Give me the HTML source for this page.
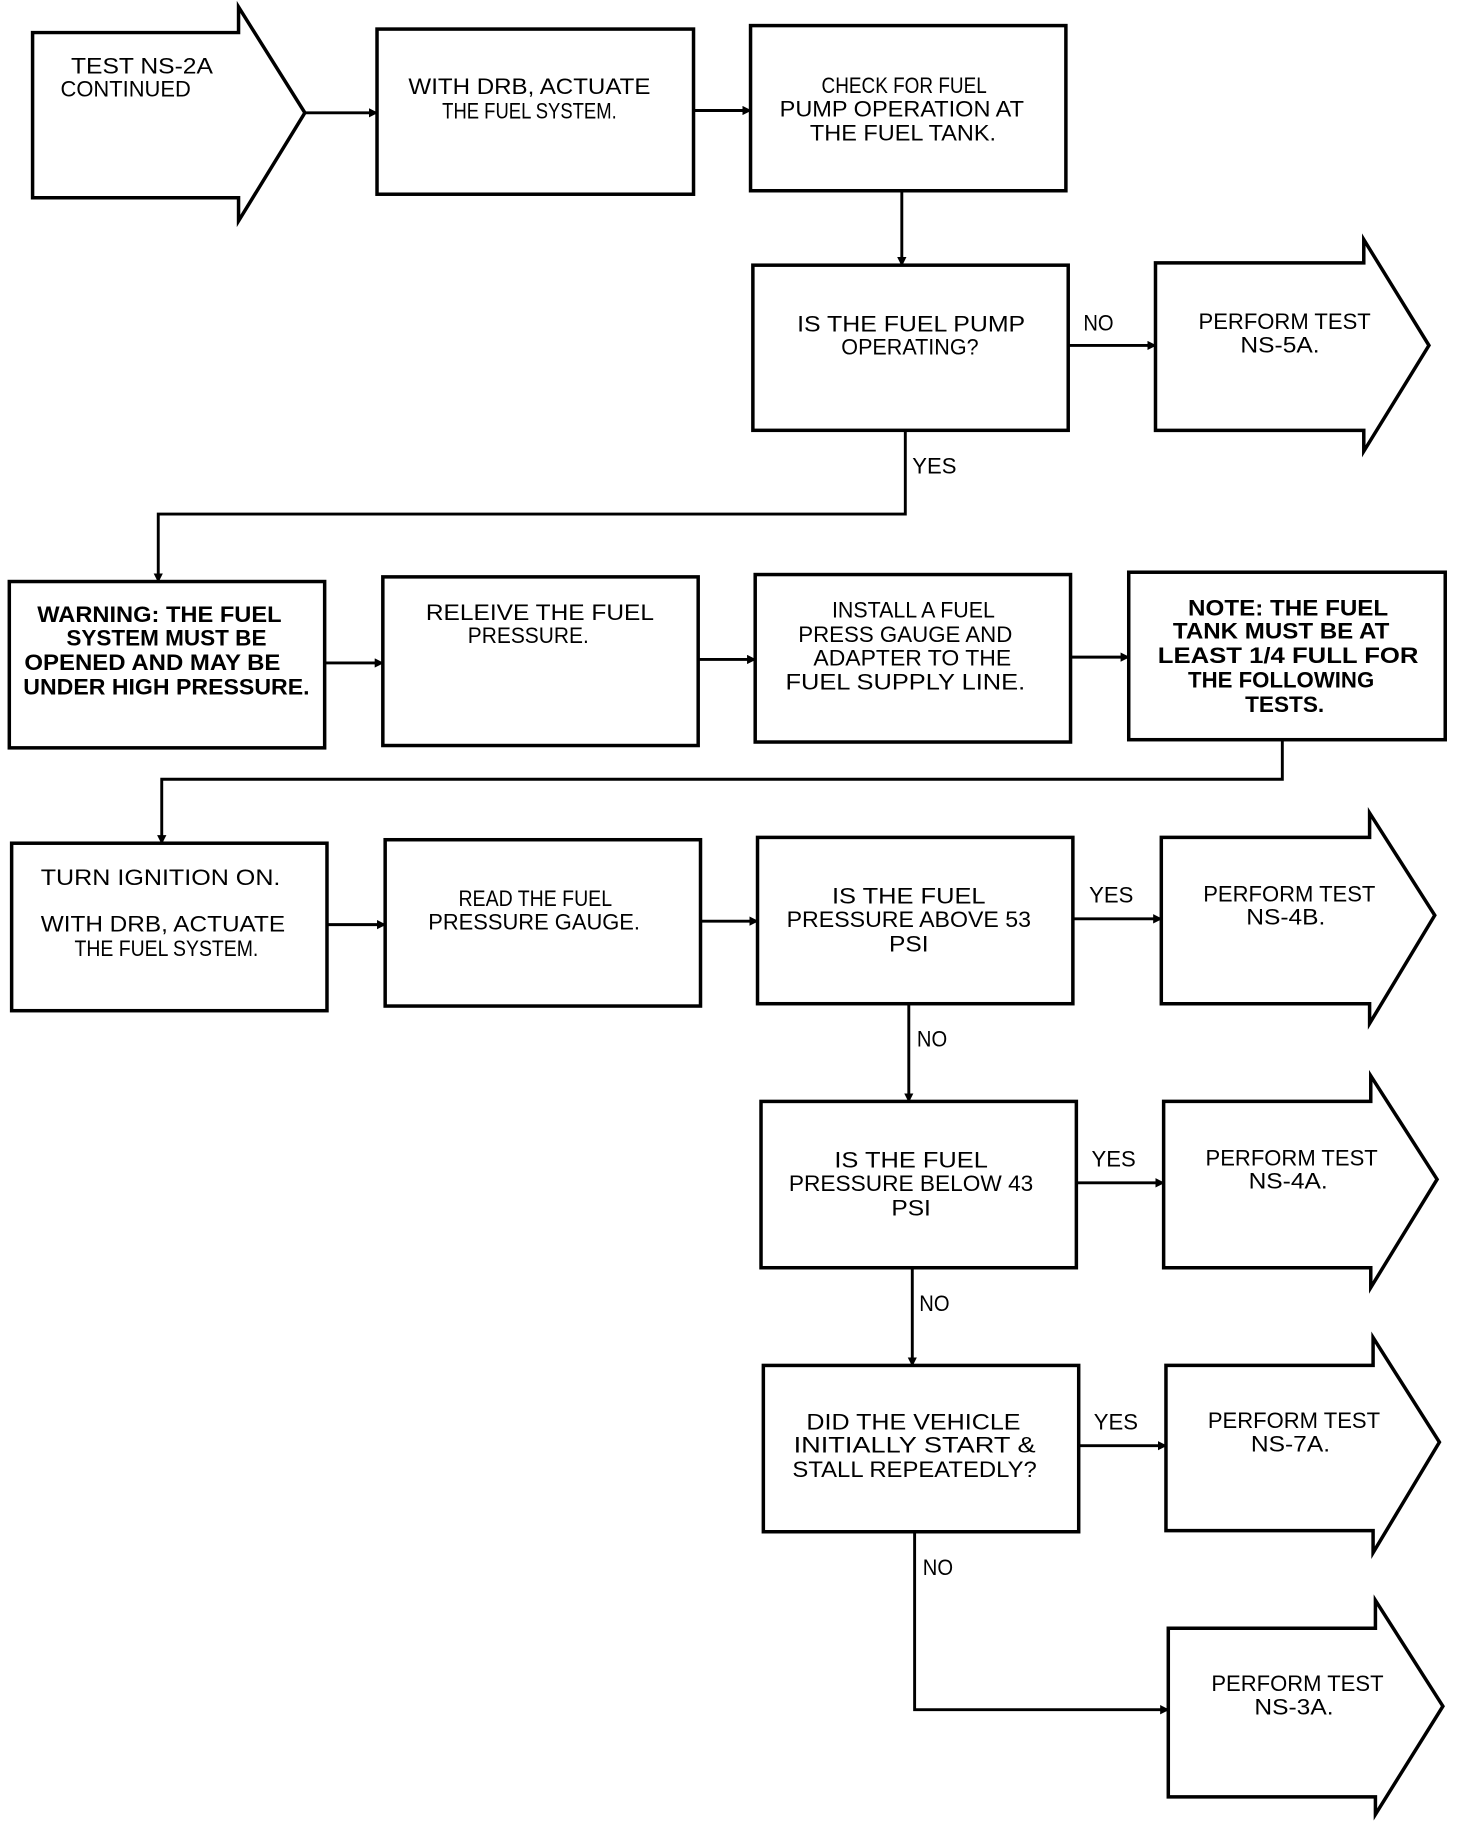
<!DOCTYPE html>
<html><head><meta charset="utf-8"><style>
html,body{margin:0;padding:0;background:#fff;}
svg{display:block;}
text{font-family:"Liberation Sans",sans-serif;font-size:19px;fill:#000;text-anchor:middle;}
.b{font-weight:bold;}
.l{text-anchor:start;}
</style></head><body>
<svg width="1472" height="1826" viewBox="0 0 1265 1570" preserveAspectRatio="none" xmlns="http://www.w3.org/2000/svg">
<defs><marker id="a" markerWidth="8" markerHeight="8" refX="7" refY="4" orient="auto" markerUnits="userSpaceOnUse"><path d="M0,0 L8,4 L0,8 z" fill="#000"/></marker></defs>
<g fill="none" stroke="#000" stroke-width="3">
<path d="M28,28 H205 V6 L262,97 L205,190 V170 H28 Z"/>
<rect x="324" y="25" width="272" height="142"/>
<rect x="645" y="22" width="271" height="142"/>
<rect x="647" y="228" width="271" height="142"/>
<path d="M993,226 H1172 V206 L1228,297 L1172,388 V370 H993 Z"/>
<rect x="8" y="500" width="271" height="143"/>
<rect x="329" y="496" width="271" height="145"/>
<rect x="649" y="494" width="271" height="144"/>
<rect x="970" y="492" width="272" height="144"/>
<rect x="10" y="725" width="271" height="144"/>
<rect x="331" y="722" width="271" height="143"/>
<rect x="651" y="720" width="271" height="143"/>
<path d="M998,720 H1177 V699 L1233,787 L1177,880 V863 H998 Z"/>
<rect x="654" y="947" width="271" height="143"/>
<path d="M1000,947 H1178 V925 L1235,1014 L1178,1107 V1090 H1000 Z"/>
<rect x="656" y="1174" width="271" height="143"/>
<path d="M1002,1174 H1180 V1150 L1237,1240 L1180,1335 V1316 H1002 Z"/>
<path d="M1004,1400 H1182 V1376 L1240,1467 L1182,1560 V1545 H1004 Z"/>
</g>
<g fill="none" stroke="#000" stroke-width="2.5" marker-end="url(#a)">
<path d="M262,97 H324"/>
<path d="M596,95 H645"/>
<path d="M775,164 V228"/>
<path d="M918,297 H993"/>
<path d="M778,370 V442 H136 V500"/>
<path d="M279,570 H329"/>
<path d="M600,567 H649"/>
<path d="M920,565 H970"/>
<path d="M1102,636 V670 H139 V725"/>
<path d="M281,795 H331"/>
<path d="M602,792 H651"/>
<path d="M922,790 H998"/>
<path d="M781,863 V947"/>
<path d="M925,1017 H1000"/>
<path d="M784,1090 V1174"/>
<path d="M927,1243 H1002"/>
<path d="M786,1317 V1470 H1004"/>
</g>
<text x="122" y="63" textLength="122" lengthAdjust="spacingAndGlyphs">TEST NS-2A</text>
<text x="108" y="83" textLength="112" lengthAdjust="spacingAndGlyphs">CONTINUED</text>
<text x="455" y="81" textLength="208" lengthAdjust="spacingAndGlyphs">WITH DRB, ACTUATE</text>
<text x="455" y="102" textLength="150" lengthAdjust="spacingAndGlyphs">THE FUEL SYSTEM.</text>
<text x="777" y="80" textLength="142" lengthAdjust="spacingAndGlyphs">CHECK FOR FUEL</text>
<text x="775" y="100" textLength="210" lengthAdjust="spacingAndGlyphs">PUMP OPERATION AT</text>
<text x="776" y="121" textLength="160" lengthAdjust="spacingAndGlyphs">THE FUEL TANK.</text>
<text x="783" y="285" textLength="196" lengthAdjust="spacingAndGlyphs">IS THE FUEL PUMP</text>
<text x="782" y="305" textLength="118" lengthAdjust="spacingAndGlyphs">OPERATING?</text>
<text x="1104" y="283" textLength="148" lengthAdjust="spacingAndGlyphs">PERFORM TEST</text>
<text x="1100" y="303" textLength="68" lengthAdjust="spacingAndGlyphs">NS-5A.</text>
<text class="b" x="137" y="535" textLength="210" lengthAdjust="spacingAndGlyphs">WARNING: THE FUEL</text>
<text class="b" x="143" y="555" textLength="172" lengthAdjust="spacingAndGlyphs">SYSTEM MUST BE</text>
<text class="b" x="131" y="576" textLength="220" lengthAdjust="spacingAndGlyphs">OPENED AND MAY BE</text>
<text class="b" x="143" y="597" textLength="246" lengthAdjust="spacingAndGlyphs">UNDER HIGH PRESSURE.</text>
<text x="464" y="533" textLength="196" lengthAdjust="spacingAndGlyphs">RELEIVE THE FUEL</text>
<text x="454" y="553" textLength="104" lengthAdjust="spacingAndGlyphs">PRESSURE.</text>
<text x="785" y="531" textLength="140" lengthAdjust="spacingAndGlyphs">INSTALL A FUEL</text>
<text x="778" y="552" textLength="184" lengthAdjust="spacingAndGlyphs">PRESS GAUGE AND</text>
<text x="784" y="572" textLength="170" lengthAdjust="spacingAndGlyphs">ADAPTER TO THE</text>
<text x="778" y="593" textLength="206" lengthAdjust="spacingAndGlyphs">FUEL SUPPLY LINE.</text>
<text class="b" x="1107" y="529" textLength="172" lengthAdjust="spacingAndGlyphs">NOTE: THE FUEL</text>
<text class="b" x="1101" y="549" textLength="186" lengthAdjust="spacingAndGlyphs">TANK MUST BE AT</text>
<text class="b" x="1107" y="570" textLength="224" lengthAdjust="spacingAndGlyphs">LEAST 1/4 FULL FOR</text>
<text class="b" x="1101" y="591" textLength="160" lengthAdjust="spacingAndGlyphs">THE FOLLOWING</text>
<text class="b" x="1104" y="612" textLength="68" lengthAdjust="spacingAndGlyphs">TESTS.</text>
<text x="138" y="761" textLength="206" lengthAdjust="spacingAndGlyphs">TURN IGNITION ON.</text>
<text x="140" y="801" textLength="210" lengthAdjust="spacingAndGlyphs">WITH DRB, ACTUATE</text>
<text x="143" y="822" textLength="158" lengthAdjust="spacingAndGlyphs">THE FUEL SYSTEM.</text>
<text x="460" y="779" textLength="132" lengthAdjust="spacingAndGlyphs">READ THE FUEL</text>
<text x="459" y="799" textLength="182" lengthAdjust="spacingAndGlyphs">PRESSURE GAUGE.</text>
<text x="781" y="777" textLength="132" lengthAdjust="spacingAndGlyphs">IS THE FUEL</text>
<text x="781" y="797" textLength="210" lengthAdjust="spacingAndGlyphs">PRESSURE ABOVE 53</text>
<text x="781" y="818" textLength="34" lengthAdjust="spacingAndGlyphs">PSI</text>
<text x="1108" y="775" textLength="148" lengthAdjust="spacingAndGlyphs">PERFORM TEST</text>
<text x="1105" y="795" textLength="68" lengthAdjust="spacingAndGlyphs">NS-4B.</text>
<text x="783" y="1004" textLength="132" lengthAdjust="spacingAndGlyphs">IS THE FUEL</text>
<text x="783" y="1024" textLength="210" lengthAdjust="spacingAndGlyphs">PRESSURE BELOW 43</text>
<text x="783" y="1045" textLength="34" lengthAdjust="spacingAndGlyphs">PSI</text>
<text x="1110" y="1002" textLength="148" lengthAdjust="spacingAndGlyphs">PERFORM TEST</text>
<text x="1107" y="1022" textLength="68" lengthAdjust="spacingAndGlyphs">NS-4A.</text>
<text x="785" y="1229" textLength="184" lengthAdjust="spacingAndGlyphs">DID THE VEHICLE</text>
<text x="786" y="1249" textLength="208" lengthAdjust="spacingAndGlyphs">INITIALLY START &amp;</text>
<text x="786" y="1270" textLength="210" lengthAdjust="spacingAndGlyphs">STALL REPEATEDLY?</text>
<text x="1112" y="1228" textLength="148" lengthAdjust="spacingAndGlyphs">PERFORM TEST</text>
<text x="1109" y="1248" textLength="68" lengthAdjust="spacingAndGlyphs">NS-7A.</text>
<text x="1115" y="1454" textLength="148" lengthAdjust="spacingAndGlyphs">PERFORM TEST</text>
<text x="1112" y="1474" textLength="68" lengthAdjust="spacingAndGlyphs">NS-3A.</text>
<text class="l" x="931" y="284" textLength="26" lengthAdjust="spacingAndGlyphs">NO</text>
<text class="l" x="784" y="407" textLength="38" lengthAdjust="spacingAndGlyphs">YES</text>
<text class="l" x="936" y="776" textLength="38" lengthAdjust="spacingAndGlyphs">YES</text>
<text class="l" x="788" y="900" textLength="26" lengthAdjust="spacingAndGlyphs">NO</text>
<text class="l" x="938" y="1003" textLength="38" lengthAdjust="spacingAndGlyphs">YES</text>
<text class="l" x="790" y="1127" textLength="26" lengthAdjust="spacingAndGlyphs">NO</text>
<text class="l" x="940" y="1229" textLength="38" lengthAdjust="spacingAndGlyphs">YES</text>
<text class="l" x="793" y="1354" textLength="26" lengthAdjust="spacingAndGlyphs">NO</text>
</svg>
</body></html>
